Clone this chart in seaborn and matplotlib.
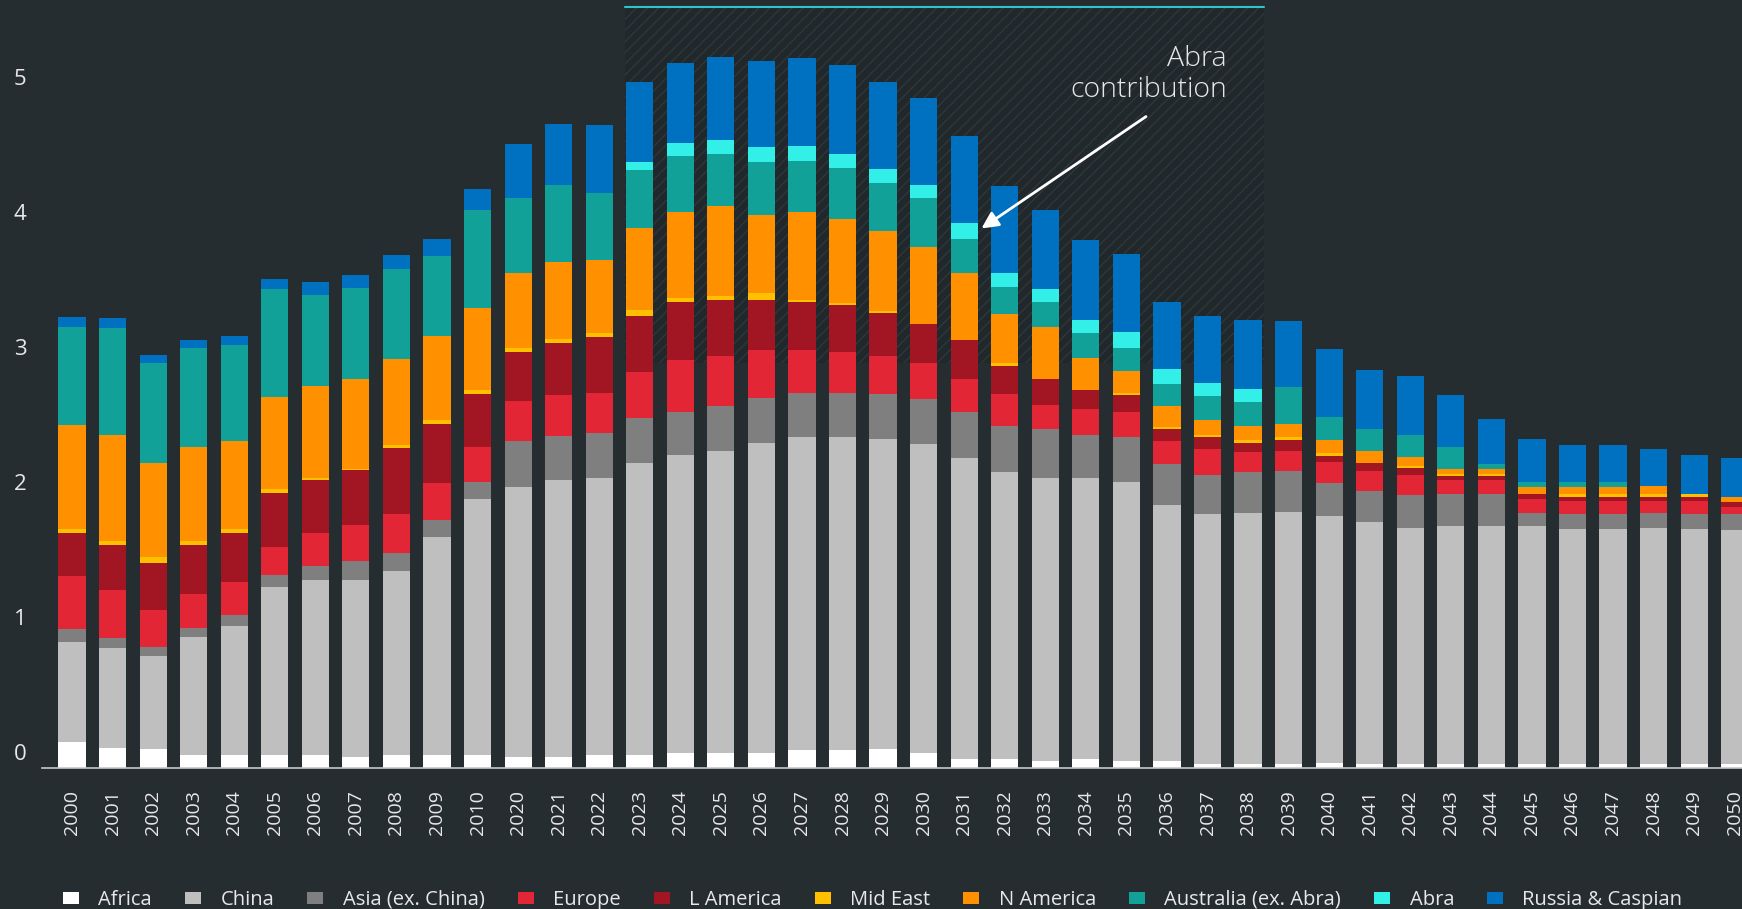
import matplotlib
matplotlib.use('Agg')
import matplotlib.pyplot as plt
from matplotlib.patches import Patch, Rectangle
from matplotlib.transforms import ScaledTranslation
import pandas as pd
import seaborn as sns

BG = '#252d31'
FG = '#e8e8e8'

years = ['2000', '2001', '2002', '2003', '2004', '2005', '2006', '2007', '2008', '2009', '2010',
         '2020', '2021', '2022', '2023', '2024', '2025', '2026', '2027', '2028', '2029', '2030',
         '2031', '2032', '2033', '2034', '2035', '2036', '2037', '2038', '2039', '2040',
         '2041', '2042', '2043', '2044', '2045', '2046', '2047', '2048', '2049', '2050']

# stacked from the bottom up
africa = [0.19, 0.15, 0.14, 0.10, 0.10, 0.10, 0.10, 0.08, 0.10, 0.10, 0.10,
          0.08, 0.08, 0.10, 0.10, 0.11, 0.11, 0.11, 0.13, 0.13, 0.14, 0.11,
          0.07, 0.07, 0.05, 0.07, 0.05, 0.05, 0.03, 0.03, 0.03, 0.04,
          0.03, 0.03, 0.03, 0.03, 0.03, 0.03, 0.03, 0.03, 0.03, 0.03]
china = [0.74, 0.74, 0.69, 0.87, 0.95, 1.24, 1.29, 1.31, 1.36, 1.61, 1.89,
         2.00, 2.05, 2.05, 2.16, 2.21, 2.24, 2.30, 2.32, 2.32, 2.30, 2.29,
         2.23, 2.12, 2.10, 2.08, 2.07, 1.90, 1.85, 1.86, 1.87, 1.83,
         1.79, 1.75, 1.76, 1.76, 1.76, 1.74, 1.74, 1.75, 1.74, 1.73]
asia = [0.10, 0.07, 0.07, 0.07, 0.08, 0.09, 0.11, 0.14, 0.13, 0.13, 0.13,
        0.34, 0.33, 0.33, 0.33, 0.32, 0.33, 0.33, 0.33, 0.33, 0.33, 0.33,
        0.34, 0.34, 0.36, 0.32, 0.33, 0.30, 0.29, 0.30, 0.30, 0.24,
        0.23, 0.24, 0.24, 0.24, 0.10, 0.11, 0.11, 0.11, 0.11, 0.12]
europe = [0.39, 0.36, 0.27, 0.25, 0.25, 0.21, 0.24, 0.27, 0.29, 0.27, 0.26,
          0.30, 0.30, 0.30, 0.34, 0.38, 0.37, 0.36, 0.32, 0.30, 0.28, 0.27,
          0.24, 0.24, 0.18, 0.19, 0.19, 0.17, 0.19, 0.15, 0.15, 0.16,
          0.15, 0.15, 0.10, 0.10, 0.10, 0.10, 0.10, 0.09, 0.10, 0.05]
l_america = [0.32, 0.33, 0.35, 0.36, 0.36, 0.40, 0.39, 0.41, 0.49, 0.44, 0.39,
             0.36, 0.39, 0.41, 0.42, 0.43, 0.42, 0.37, 0.35, 0.35, 0.32, 0.29,
             0.29, 0.21, 0.19, 0.14, 0.12, 0.09, 0.09, 0.07, 0.08, 0.04,
             0.06, 0.05, 0.03, 0.03, 0.04, 0.03, 0.03, 0.03, 0.03, 0.04]
mid_east = [0.03, 0.03, 0.04, 0.03, 0.03, 0.03, 0.02, 0.005, 0.02, 0.03, 0.03,
            0.03, 0.03, 0.03, 0.04, 0.03, 0.03, 0.05, 0.02, 0.015, 0.015, 0.0,
            0.0, 0.02, 0.0, 0.0, 0.02, 0.015, 0.015, 0.02, 0.02, 0.02,
            0.0, 0.015, 0.015, 0.015, 0.0, 0.02, 0.02, 0.02, 0.02, 0.0]
n_america = [0.77, 0.79, 0.70, 0.70, 0.65, 0.68, 0.68, 0.67, 0.64, 0.62, 0.61,
             0.56, 0.57, 0.54, 0.61, 0.64, 0.66, 0.58, 0.65, 0.62, 0.59, 0.57,
             0.50, 0.36, 0.39, 0.24, 0.16, 0.16, 0.11, 0.10, 0.10, 0.10,
             0.09, 0.07, 0.04, 0.04, 0.05, 0.05, 0.05, 0.06, 0.0, 0.04]
australia = [0.73, 0.79, 0.74, 0.73, 0.71, 0.80, 0.67, 0.67, 0.67, 0.59, 0.72,
             0.55, 0.57, 0.50, 0.43, 0.41, 0.39, 0.39, 0.38, 0.38, 0.36, 0.36,
             0.25, 0.20, 0.18, 0.18, 0.17, 0.16, 0.18, 0.18, 0.27, 0.17,
             0.16, 0.16, 0.16, 0.04, 0.04, 0.04, 0.04, 0.0, 0.0, 0.0]
abra = [0.0, 0.0, 0.0, 0.0, 0.0, 0.0, 0.0, 0.0, 0.0, 0.0, 0.0,
        0.0, 0.0, 0.0, 0.06, 0.10, 0.10, 0.11, 0.11, 0.10, 0.10, 0.10,
        0.12, 0.11, 0.10, 0.10, 0.12, 0.11, 0.10, 0.10, 0.0, 0.0,
        0.0, 0.0, 0.0, 0.0, 0.0, 0.0, 0.0, 0.0, 0.0, 0.0]
russia = [0.07, 0.07, 0.06, 0.06, 0.07, 0.07, 0.10, 0.10, 0.10, 0.13, 0.16,
          0.40, 0.45, 0.50, 0.59, 0.59, 0.62, 0.64, 0.65, 0.66, 0.65, 0.64,
          0.64, 0.64, 0.58, 0.59, 0.58, 0.50, 0.49, 0.51, 0.49, 0.50,
          0.44, 0.44, 0.39, 0.33, 0.32, 0.27, 0.27, 0.27, 0.29, 0.29]

series = ['Africa', 'China', 'Asia (ex. China)', 'Europe', 'L America', 'Mid East',
          'N America', 'Australia (ex. Abra)', 'Abra', 'Russia & Caspian']
colors = ['#ffffff', '#bfbfbf', '#7f7f7f', '#e22636', '#a21624', '#ffc000',
          '#ff9100', '#11a199', '#32f0e8', '#0070c0']

df = pd.DataFrame(dict(zip(series, [africa, china, asia, europe, l_america, mid_east,
                                    n_america, australia, abra, russia])), index=years)
cum = df.cumsum(axis=1)

sns.set_style('dark', {'axes.facecolor': BG, 'figure.facecolor': BG})
plt.rcParams['font.family'] = ['Open Sans', 'DejaVu Sans']

W, H = 1742, 909
fig = plt.figure(figsize=(W / 100, H / 100), dpi=100)
ax = fig.add_axes([42 / W, 1 - 768 / H, 1 - 42 / W, 768 / H])

# highlighted period behind the bars
x0 = years.index('2023') - 0.36
x1 = years.index('2038') + 0.4
ax.add_patch(Rectangle((x0, 3.0), x1 - x0, 2.64, facecolor='#21282b',
                       edgecolor='#2e373b', hatch='///', lw=0, zorder=0.5))
ax.plot([x0, x1], [5.64, 5.64], color='#2ec4cc', lw=1.5, zorder=0.6)

# overplot cumulative totals, tallest first
for name, c in reversed(list(zip(series, colors))):
    sns.barplot(x=years, y=cum[name].values, order=years, color=c, saturation=1,
                width=0.67, linewidth=0, errorbar=None, ax=ax, zorder=2)

ax.set_xlim(-0.74, 41.18)
ax.set_ylim(0, 768 / 135)
ax.set_yticks(range(6))
ax.set_yticklabels([str(i) for i in range(6)])
ax.tick_params(axis='x', colors=FG, labelsize=14, rotation=90, length=0, pad=16)
ax.tick_params(axis='y', colors=FG, labelsize=16, length=0, pad=11)
for lab in ax.get_yticklabels():
    lab.set_transform(lab.get_transform() + ScaledTranslation(0, 0.16, fig.dpi_scale_trans))
ax.grid(False)
for s in ['top', 'right', 'left']:
    ax.spines[s].set_visible(False)
ax.spines['bottom'].set_color('#c8c8c8')
ax.spines['bottom'].set_linewidth(1.2)
ax.set_xlabel('')
ax.set_ylabel('')

ax.text(28.48, 5.14, 'Abra\ncontribution', ha='right', va='center', multialignment='right',
        fontsize=20.5, color=FG, fontweight='light', linespacing=1.15)
ax.annotate('', xy=(22.37, 3.985), xytext=(26.54, 4.837),
            arrowprops=dict(arrowstyle='-|>', color='white', lw=2, mutation_scale=25))

handles = [Patch(facecolor=c, edgecolor='none', label=n) for n, c in zip(series, colors)]
fig.legend(handles=handles, loc='center left', bbox_to_anchor=(63 / W, 0.010), ncol=10,
           frameon=False, fontsize=14.5, labelcolor=FG, handlelength=0.8, handleheight=0.5,
           handletextpad=0.95, columnspacing=1.65, borderpad=0, borderaxespad=0)

fig.savefig('out.png', dpi=100, facecolor=BG)
